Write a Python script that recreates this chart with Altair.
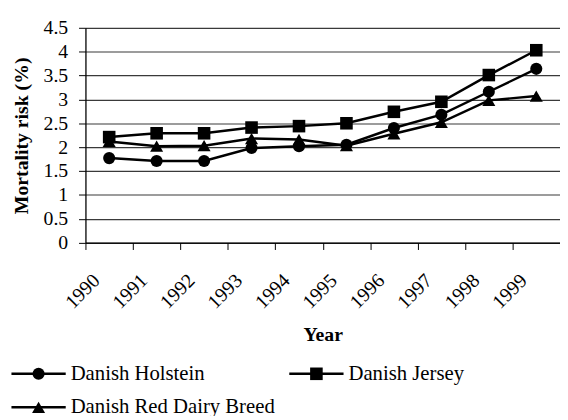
import altair as alt
import pandas as pd

years = ["1990", "1991", "1992", "1993", "1994", "1995", "1996", "1997", "1998", "1999"]
series = ["Danish Holstein", "Danish Jersey", "Danish Red Dairy Breed"]
holstein = [1.77, 1.71, 1.71, 1.98, 2.02, 2.05, 2.40, 2.68, 3.16, 3.64]
jersey = [2.21, 2.29, 2.29, 2.41, 2.44, 2.50, 2.74, 2.95, 3.51, 4.03]
red_dairy = [2.12, 2.02, 2.03, 2.18, 2.16, 2.03, 2.28, 2.52, 2.98, 3.07]
y_ticks = [0, 0.5, 1, 1.5, 2, 2.5, 3, 3.5, 4, 4.5]

FONT = "Liberation Serif"
shapes = ["circle", "square", "triangle-up"]
sizes = [150, 175, 215]

rows = []
for name, vals in zip(series, [holstein, jersey, red_dairy]):
    for yr, v in zip(years, vals):
        rows.append({"Year": yr, "Series": name, "Risk": v})
df = pd.DataFrame(rows)

shape_scale = alt.Scale(domain=series, range=shapes)
size_scale = alt.Scale(domain=series, range=sizes)

x_enc = alt.X(
    "Year:N",
    sort=years,
    scale=alt.Scale(type="band", paddingInner=0, paddingOuter=0),
    axis=alt.Axis(
        title="Year",
        tickBand="extent",
        labelAngle=315,
        labelAlign="right",
        labelBaseline="middle",
        labelOffset=-13,
        labelPadding=28,
        tickSize=7,
        tickColor="black",
        domainColor="black",
        domainWidth=1.3,
        labelFont=FONT,
        labelFontSize=20,
        labelColor="black",
        titleFont=FONT,
        titleFontSize=20,
        titleFontWeight="bold",
        titleColor="black",
        titleY=93,
        titleBaseline="middle",
        grid=False,
    ),
)
y_enc = alt.Y(
    "Risk:Q",
    scale=alt.Scale(domain=[0, 4.5], nice=False, zero=True),
    axis=alt.Axis(
        title="Mortality risk (%)",
        values=y_ticks,
        format="~g",
        tickSize=7,
        tickColor="black",
        domainColor="black",
        domainWidth=1.3,
        labelFont=FONT,
        labelFontSize=20,
        labelColor="black",
        labelPadding=11,
        titleFont=FONT,
        titleFontSize=20,
        titleFontWeight="bold",
        titleColor="black",
        titleX=-65,
        titleY=109,
        titleAngle=270,
        titleAlign="center",
        titleBaseline="middle",
        grid=True,
        gridColor="#3a3a3a",
        gridWidth=1.2,
    ),
)

lines = alt.Chart(df).mark_line(color="black", strokeWidth=2.5).encode(
    x=x_enc, y=y_enc, detail="Series:N"
)
points = alt.Chart(df).mark_point(filled=True, color="black", opacity=1).encode(
    x=x_enc,
    y=y_enc,
    shape=alt.Shape("Series:N", scale=shape_scale, legend=None),
    size=alt.Size("Series:N", scale=size_scale, legend=None),
)

# manual legend (layout in pixels, below the plot)
leg_rows = []
for i, name in enumerate(series):
    col, row = i % 2, i // 2
    x0 = -75 + col * 281.6
    leg_rows.append({
        "Series": name,
        "lx1": x0,
        "lx2": x0 + 55,
        "lm": x0 + 27.5,
        "lt": x0 + 60,
        "ly": 350.7 + row * 34,
    })
leg = pd.DataFrame(leg_rows)

leg_lines = alt.Chart(leg).mark_rule(color="black", strokeWidth=2.5).encode(
    x=alt.X("lx1:Q", scale=None, axis=None),
    x2="lx2:Q",
    y=alt.Y("ly:Q", scale=None, axis=None),
)
leg_pts = alt.Chart(leg).mark_point(filled=True, color="black", opacity=1).encode(
    x=alt.X("lm:Q", scale=None, axis=None),
    y=alt.Y("ly:Q", scale=None, axis=None),
    shape=alt.Shape("Series:N", scale=shape_scale, legend=None),
    size=alt.Size("Series:N", scale=size_scale, legend=None),
)
leg_txt = alt.Chart(leg).mark_text(
    align="left", baseline="middle", font=FONT, fontSize=21, color="black"
).encode(
    x=alt.X("lt:Q", scale=None, axis=None),
    y=alt.Y("ly:Q", scale=None, axis=None),
    text="Series:N",
)

main = alt.layer(lines, points)
legend = alt.layer(leg_lines, leg_pts, leg_txt)

chart = alt.layer(main, legend).resolve_scale(
    x="independent", y="independent"
).properties(
    width=481,
    height=217.7,
    autosize=alt.AutoSizeParams(type="none"),
    padding={"left": 78.5, "top": 17.3, "right": 0, "bottom": 173},
).configure_view(strokeWidth=0)

chart.save("out.html", embed_options={"renderer": "svg", "actions": False})
